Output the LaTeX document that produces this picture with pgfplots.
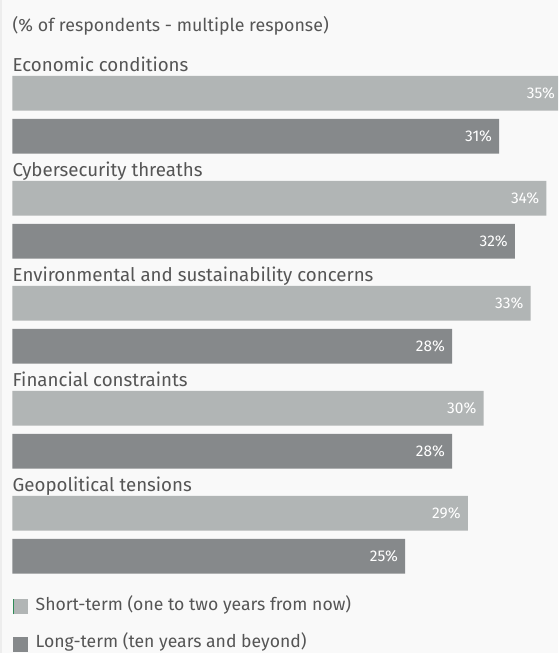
\documentclass[border=0pt]{standalone}
\usepackage{fontspec}
\setmainfont{Fira Sans}
\usepackage{pgfplots}
\pgfplotsset{compat=1.18}
\definecolor{bg}{HTML}{F9F9F9}
\definecolor{lightbar}{HTML}{B1B5B5}
\definecolor{darkbar}{HTML}{86898B}
\definecolor{txt}{HTML}{555555}
\definecolor{edge}{HTML}{2E8B57}

\pgfplotstableread{
y value
93.3 35
198.3 34
303.3 33
408.3 30
513.3 29
}\shortterm
\pgfplotstableread{
y value
136.3 31
241.3 32
346.3 28
451.3 28
556.3 25
}\longterm

\begin{document}
\begin{tikzpicture}
\path[use as bounding box, clip] (0,0) rectangle (558pt,653pt);
\fill[bg] (0,0) rectangle (558pt,653pt);
\begin{axis}[
  at={(0,0)}, anchor=south west,
  width=558pt, height=653pt, scale only axis,
  xmin=-0.796, xmax=34.745, ymin=0, ymax=653, y dir=reverse,
  axis line style={draw=none}, xtick=\empty, ytick=\empty,
  xbar, bar width=34.7, bar shift=0pt,
  clip=false,
  point meta=x,
  /pgf/number format/assume math mode=true,
  nodes near coords={\pgfmathprintnumber{\pgfplotspointmeta}\%},
  every node near coord/.append style={anchor=east, xshift=-7pt, inner sep=0pt, text=white, font=\fontsize{15.5}{17}\selectfont},
  legend style={draw=none, fill=none, inner sep=0pt, at={(axis cs:0,598.5)}, anchor=north west,
    font=\fontsize{17.6}{20}\selectfont, text=txt, row sep=21.9pt,
    nodes={inner ysep=0pt, inner xsep=0pt, text height=10.5pt, text depth=3pt}},
  legend cell align=left,
  legend image code/.code={\fill[#1, draw=none] (0pt,-7.5pt) rectangle (15pt,7.5pt);},
  /tikz/every odd column/.append style={column sep=8pt},
]
\addplot[fill=lightbar, draw=none, legend image code/.code={\fill[lightbar] (0pt,-7.5pt) rectangle (15pt,7.5pt); \draw[edge, line width=1pt] (0.5pt,-7.5pt) -- (0.5pt,7.5pt);}] table[x=value, y=y] {\shortterm};
\addlegendentry{Short-term (one to two years from now)}
\addplot[fill=darkbar, draw=none] table[x=value, y=y] {\longterm};
\addlegendentry{Long-term (ten years and beyond)}

\begin{scope}[every node/.style={anchor=base west, inner sep=0pt, text=txt, font=\fontsize{18.7}{21}\selectfont}]
\node[font=\fontsize{17.8}{20}\selectfont] at (axis cs:0,31.5) {(\% of respondents - multiple response)};
\node at (axis cs:0,71.7) {Economic conditions};
\node at (axis cs:0,176.7) {Cybersecurity threaths};
\node at (axis cs:0,281.7) {Environmental and sustainability concerns};
\node at (axis cs:0,386.7) {Financial constraints};
\node at (axis cs:0,491.7) {Geopolitical tensions};
\end{scope}
\end{axis}
\draw[draw=black!7, line width=2pt] (1pt,0) -- (1pt,653pt);
\end{tikzpicture}
\end{document}
